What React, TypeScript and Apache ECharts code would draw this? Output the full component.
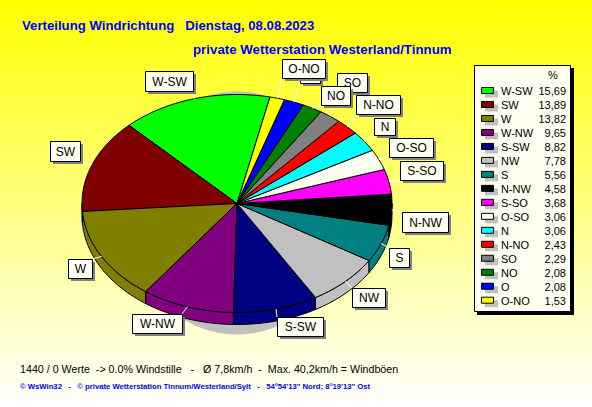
import React, { useEffect, useRef } from "react";
import * as echarts from "echarts";

const directions = ["W-SW","SW","W","W-NW","S-SW","NW","S","N-NW","S-SO","O-SO","N","N-NO","SO","NO","O","O-NO"];
const percents = [15.69,13.89,13.82,9.65,8.82,7.78,5.56,4.58,3.68,3.06,3.06,2.43,2.29,2.08,2.08,1.53];
const colors = ["#00ff00","#800000","#808000","#800080","#000080","#c0c0c0","#008080","#000000","#ff00ff","#fffff0","#00ffff","#ff0000","#808080","#008000","#0000ff","#ffff00"];
// label boxes: x, y, w, h
const labelBoxes: Record<string, number[]> = {
  "W-SW":[145,71,48,20], "SW":[50,141,30,20], "W":[68,259,24,19], "W-NW":[132,314,50,19],
  "S-SW":[277,317,46,19], "NW":[352,288,33,19], "S":[389,248,20,19], "N-NW":[402,212,46,20],
  "S-SO":[400,161,43,19], "O-SO":[389,138,44,19], "N":[374,118,21,17], "N-NO":[356,95,44,19],
  "SO":[337,73,30,19], "NO":[321,86,29,19], "O":[300,64,20,19], "O-NO":[282,59,43,19],
};
const labelOrder = ["W-SW","SW","W","W-NW","S-SW","NW","S","N-NW","S-SO","O-SO","N","N-NO","SO","O","O-NO","NO"];
// the "O" box lies wholly under "O-NO" in the picture, so its text never shows
const hiddenLabelTexts = ["O"];

const CX = 237, CY = 203.5, RX = 155, RY = 109, DEPTH = 12, START = 77.7;
const rad = (d: number) => (d * Math.PI) / 180;
const rim = (t: number, dy = 0): number[] => [CX + RX * Math.cos(rad(t)), CY - RY * Math.sin(rad(t)) + dy];

function arcPoints(a: number, b: number, dy = 0) {
  const n = Math.max(2, Math.ceil(Math.abs(b - a) / 1.5));
  const pts: number[][] = [];
  for (let i = 0; i <= n; i++) pts.push(rim(a + ((b - a) * i) / n, dy));
  return pts;
}
const total = percents.reduce((s, v) => s + v, 0);
const angleAt = (i: number) => START + (percents.slice(0, i).reduce((s, v) => s + v, 0) / total) * 360;

function shadowElement() {
  const pts: number[][] = [];
  for (let t = 0; t < 360; t += 2) {
    pts.push([237 + 110 * Math.cos(rad(t)), 213 + 121 * Math.sin(rad(t))]);
  }
  return { type: "polygon", z2: -10, shape: { points: pts }, style: { fill: "#c0c0c0", stroke: "#c0c0c0", lineWidth: 1 } };
}

function renderSlice(params: any, api: any) {
  const i = params.dataIndex;
  const a = angleAt(i);
  const b = a + (api.value(0) / total) * 360;
  const children: any[] = [];
  if (i === 0) children.push(shadowElement());
  // visible wall: the part of the slice lying in the lower half (180..360 deg)
  const lo = Math.max(a, 180), hi = Math.min(b, 360);
  const style = { fill: colors[i], stroke: "#000", lineWidth: 1 };
  if (hi > lo) {
    children.push({ type: "polygon", shape: { points: [...arcPoints(lo, hi), ...arcPoints(hi, lo, DEPTH)] }, style });
  }
  const lo2 = Math.max(a, 540), hi2 = Math.min(b, 720);
  if (hi2 > lo2) {
    children.push({ type: "polygon", shape: { points: [...arcPoints(lo2, hi2), ...arcPoints(hi2, lo2, DEPTH)] }, style });
  }
  children.push({ type: "polygon", shape: { points: [[CX, CY], ...arcPoints(a, b)] }, style });
  return { type: "group", children };
}

function buildGraphic() {
  const els: any[] = [];
  const font = "Liberation Sans, Arial, sans-serif";
  const title = (text: string, x: number, y: number, fontSize: number, fontWeight: string, fill: string) =>
    els.push({ type: "text", x, y, z: 20, style: { text, fontSize, fontWeight, fontFamily: font, fill, textVerticalAlign: "middle" } });

  title("Verteilung Windrichtung   Dienstag, 08.08.2023", 22, 25, 13.2, "bold", "#0000ff");
  title("private Wetterstation Westerland/Tinnum", 193, 49, 13.3, "bold", "#0000ff");
  title("1440 / 0 Werte  -> 0.0% Windstille   -   Ø 7,8km/h  -  Max. 40,2km/h = Windböen", 20, 369, 10.7, "normal", "#000000");
  title("© WsWin32   -   © private Wetterstation Tinnum/Westerland/Sylt   -   54°54'13\" Nord; 8°19'13\" Ost", 20, 386, 7.7, "bold", "#0000ff");

  // legend panel
  els.push({ type: "rect", z: 20, shape: { x: 477, y: 68, width: 97, height: 247 }, style: { fill: "#000" } });
  els.push({ type: "rect", z: 21, shape: { x: 474.5, y: 65.5, width: 96, height: 246 }, style: { fill: "#fffff0", stroke: "#000", lineWidth: 1 } });
  els.push({ type: "text", x: 553, y: 75, z: 22, style: { text: "%", fontSize: 11, fontFamily: font, fill: "#000", textAlign: "center", textVerticalAlign: "middle" } });
  directions.forEach((d, i) => {
    const y = 91 + i * 13.98;
    els.push({ type: "rect", z: 22, shape: { x: 485, y: y - 0.5, width: 13, height: 7 }, style: { fill: "#c0c0c0" } });
    els.push({ type: "rect", z: 23, shape: { x: 481.5, y: y - 3.5, width: 12, height: 6 }, style: { fill: colors[i], stroke: "#000", lineWidth: 1 } });
    els.push({ type: "text", x: 501, y, z: 23, style: { text: d, fontSize: 11, fontFamily: font, fill: "#000", textVerticalAlign: "middle" } });
    els.push({ type: "text", x: 566, y, z: 23, style: { text: percents[i].toFixed(2).replace(".", ","), fontSize: 11, fontFamily: font, fill: "#000", textAlign: "right", textVerticalAlign: "middle" } });
  });

  // leader lines
  directions.forEach((d, i) => {
    const mid = (angleAt(i) + angleAt(i + 1)) / 2;
    const [x1, y1] = rim(mid);
    const [bx, by, bw, bh] = labelBoxes[d];
    const x2 = Math.min(Math.max(x1, bx), bx + bw);
    const y2 = Math.min(Math.max(y1, by), by + bh);
    els.push({ type: "line", z: 8, shape: { x1, y1, x2, y2 }, style: { stroke: "#ffffff", lineWidth: 1 } });
  });

  // label boxes
  labelOrder.forEach((d, k) => {
    const [x, y, w, h] = labelBoxes[d];
    const z = 10 + k * 0.01;
    els.push({ type: "rect", z, shape: { x: x + 3, y: y + 3, width: w, height: h }, style: { fill: "#808080" } });
    els.push({ type: "rect", z, shape: { x: x + 0.5, y: y + 0.5, width: w, height: h }, style: { fill: "#fffff0", stroke: "#000", lineWidth: 1 } });
    if (!hiddenLabelTexts.includes(d)) {
      els.push({ type: "text", z, x: x + w / 2 + 0.5, y: y + h / 2 + 0.5, style: { text: d, fontSize: 12, fontFamily: font, fill: "#000", textAlign: "center", textVerticalAlign: "middle" } });
    }
  });
  return els;
}

export default function App() {
  const ref = useRef<HTMLDivElement>(null);
  useEffect(() => {
    document.body.style.margin = "0";
    const chart = echarts.init(ref.current!, undefined, { renderer: "svg" });
    chart.setOption({
      animation: false,
      backgroundColor: new echarts.graphic.LinearGradient(0, 0, 0, 1, [
        { offset: 0, color: "#ffff00" },
        { offset: 1, color: "#ffffff" },
      ]),
      graphic: { elements: buildGraphic() },
      series: [
        {
          type: "custom",
          coordinateSystem: "none",
          z: 5,
          silent: true,
          renderItem: renderSlice,
          data: percents.map((v, i) => ({ name: directions[i], value: [v] })),
        },
      ],
    });
    return () => chart.dispose();
  }, []);
  return <div ref={ref} style={{ width: 592, height: 407, overflow: "hidden" }} />;
}
